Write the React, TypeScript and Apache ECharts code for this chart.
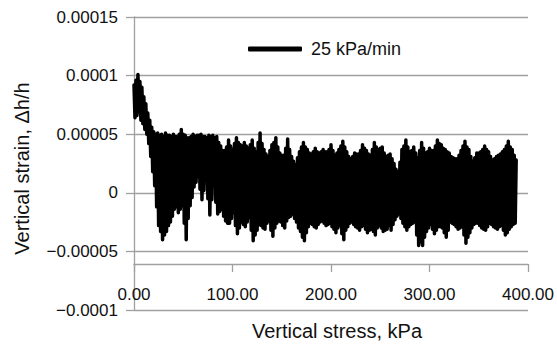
import { useEffect, useRef } from 'react';
import * as echarts from 'echarts';

// Readings are 1 kPa apart; each 4 kPa block holds: peak, trough, mid-peak, mid-trough.
const stressStep = 1;
// Peaks (×1e-5) at stress 0, 4, 8, ...
const peakStrain = [
  9.2, 10.1, 9.0, 7.6, 6.2, 5.2, 5.1, 5.0, 5.1, 4.9,
  5.0, 4.8, 5.4, 4.9, 4.7, 5.0, 4.9, 5.0, 4.8, 4.9,
  4.9, 4.8, 4.0, 3.6, 4.5, 3.7, 4.7, 4.1, 4.3, 3.8,
  4.5, 3.5, 5.1, 3.7, 3.1, 4.1, 4.7, 3.4, 3.2, 4.6,
  3.1, 2.4, 3.5, 4.3, 3.7, 3.3, 3.8, 3.4, 3.7, 3.5,
  4.1, 3.2, 3.7, 4.4, 3.5, 2.9, 3.4, 3.3, 4.1, 3.6,
  3.2, 4.3, 3.7, 3.9, 3.1, 3.3, 2.5, 1.8, 3.7, 4.5,
  3.5, 3.9, 3.0, 4.3, 3.4, 3.8, 3.6, 4.5, 4.1, 3.7,
  3.4, 3.0, 2.9, 3.6, 4.4, 3.7, 2.7, 3.4, 3.5, 4.0,
  3.5, 2.8, 3.1, 3.3, 3.7, 4.4, 3.7, 2.8,
];
// Troughs (×1e-5) at stress 1, 5, 9, ...
const troughStrain = [
  6.4, 6.9, 5.9, 5.0, 3.1, 0.6, -2.8, -4.0, -3.3, -2.5,
  -1.4, -1.7, -1.1, -4.0, -1.1, 0.5, 1.4, -0.6, 1.1, -1.9,
  0.7, -1.8, -1.4, -2.4, -2.6, -1.7, -3.5, -2.5, -2.9, -2.1,
  -4.1, -3.2, -2.8, -3.1, -2.4, -3.7, -2.6, -2.5, -3.0, -2.1,
  -1.8, -2.5, -3.3, -4.1, -2.9, -2.7, -3.0, -2.5, -2.6, -2.7,
  -2.9, -3.4, -2.8, -4.0, -2.9, -2.5, -2.9, -3.2, -2.8, -3.4,
  -3.1, -3.6, -2.8, -3.3, -3.1, -3.2, -2.3, -1.8, -2.6, -3.2,
  -2.7, -2.5, -4.5, -4.5, -3.3, -2.7, -3.5, -2.9, -3.0, -3.8,
  -2.5, -2.7, -3.1, -2.9, -4.3, -3.4, -2.7, -2.6, -3.0, -3.2,
  -2.6, -2.9, -3.1, -2.8, -3.6, -3.1, -2.7,
];
// Mid-peaks (×1e-5) at stress 2, 6, 10, ...
const midPeakStrain = [
  9.6, 9.5, 8.2, 6.8, 5.6, 5.0, 4.9, 4.8, 4.9, 4.8,
  4.8, 5.0, 5.0, 4.7, 4.8, 4.8, 4.9, 4.8, 4.7, 4.8,
  4.7, 4.3, 3.6, 3.9, 4.0, 4.2, 4.3, 4.0, 4.0, 4.1,
  3.8, 4.3, 4.2, 3.3, 3.6, 4.3, 3.9, 3.2, 3.8, 3.7,
  2.7, 3.0, 3.9, 3.9, 3.4, 3.5, 3.5, 3.5, 3.5, 3.7,
  3.6, 3.4, 4.0, 3.9, 3.1, 3.1, 3.3, 3.6, 3.8, 3.3,
  3.7, 3.9, 3.8, 3.4, 3.2, 2.9, 2.0, 2.6, 4.0, 3.9,
  3.6, 3.4, 3.6, 3.8, 3.5, 3.6, 4.0, 4.2, 3.8, 3.5,
  3.1, 2.9, 3.2, 4.0, 3.9, 3.1, 3.0, 3.4, 3.7, 3.7,
  3.1, 2.9, 3.2, 3.5, 4.0, 3.9, 3.2,
];
// Mid-troughs (×1e-5) at stress 3, 7, 11, ...
const midTroughStrain = [
  6.6, 6.2, 5.4, 4.2, 1.8, -1.2, -3.3, -3.6, -2.8, -2.0,
  -1.2, -1.4, -2.6, -2.2, -0.4, 0.9, 0.3, 0.2, -0.5, -0.6,
  -0.8, -1.6, -2.0, -2.6, -2.2, -2.8, -3.0, -2.7, -2.5, -3.2,
  -3.6, -2.7, -3.0, -2.6, -3.2, -3.0, -2.4, -2.8, -2.4, -2.0,
  -2.2, -3.0, -3.8, -3.4, -2.6, -2.9, -2.7, -2.4, -2.8, -2.6,
  -3.1, -3.0, -3.5, -3.2, -2.6, -2.7, -3.0, -2.9, -3.1, -3.2,
  -3.3, -3.0, -3.0, -3.2, -2.8, -2.7, -2.0, -2.2, -2.9, -2.9,
  -2.6, -3.6, -4.2, -3.8, -3.0, -3.1, -3.2, -2.9, -3.4, -3.2,
  -2.6, -2.9, -3.0, -3.6, -3.8, -3.0, -2.6, -2.8, -3.1, -2.9,
  -2.7, -3.0, -2.9, -3.2, -3.4, -2.9, -2.6,
];
const yTickValues = [-10, -5, 0, 5, 10, 15]; // ×1e-5
const yTickLabels = ['\u22120.0001', '\u22120.00005', '0', '0.00005', '0.0001', '0.00015'];
const seriesName = '25 kPa/min';

const FONT = '"Liberation Sans", Arial, Helvetica, sans-serif';
const GRID = '#a0a0a0';

export default function App() {
  const ref = useRef<HTMLDivElement>(null);
  useEffect(() => {
    const chart = echarts.init(ref.current!, null, { renderer: 'svg' });
    const data: [number, number][] = [];
    peakStrain.forEach((p, i) => {
      const base = 4 * i * stressStep;
      data.push([base, p * 1e-5]);
      if (i < troughStrain.length) {
        data.push([base + stressStep, troughStrain[i] * 1e-5]);
        data.push([base + 2 * stressStep, midPeakStrain[i] * 1e-5]);
        data.push([base + 3 * stressStep, midTroughStrain[i] * 1e-5]);
      }
    });
    chart.setOption({
      animation: false,
      textStyle: { fontFamily: FONT },
      grid: { left: 134, right: 24, top: 17, bottom: 33, containLabel: false },
      legend: {
        data: [{ name: seriesName, icon: 'roundRect' }],
        left: 248,
        top: 39,
        padding: 0,
        itemWidth: 54,
        itemHeight: 5,
        itemStyle: { color: '#000' },
        textStyle: { fontFamily: FONT, fontSize: 18, color: '#111', lineHeight: 20, padding: [0, 0, 0, 4] },
      },
      xAxis: {
        type: 'value',
        min: 0,
        max: 400,
        interval: 100,
        offset: -46,
        name: 'Vertical stress, kPa',
        nameLocation: 'middle',
        nameGap: 57,
        nameTextStyle: { fontFamily: FONT, fontSize: 20, color: '#111', padding: [0, 0, 0, 12] },
        axisLine: { onZero: false, lineStyle: { color: GRID, width: 1.3 } },
        axisTick: { show: true, length: 8, lineStyle: { color: GRID, width: 1.3 } },
        axisLabel: {
          margin: 22,
          fontFamily: FONT,
          fontSize: 17,
          color: '#111',
          formatter: (v: number) => v.toFixed(2),
        },
        splitLine: { show: false },
      },
      yAxis: {
        type: 'value',
        min: -0.0001,
        max: 0.00015,
        interval: 0.00005,
        name: 'Vertical strain, \u0394h/h',
        nameLocation: 'middle',
        nameGap: 102,
        nameTextStyle: { fontFamily: FONT, fontSize: 20, color: '#111', padding: [0, 10, 0, 0] },
        axisLine: { show: true, onZero: false, lineStyle: { color: GRID, width: 1.3 } },
        axisTick: { show: true, length: 8, lineStyle: { color: GRID, width: 1.3 } },
        axisLabel: {
          margin: 16,
          fontFamily: FONT,
          fontSize: 17,
          color: '#111',
          formatter: (v: number) => {
            const k = Math.round(v * 1e5);
            const idx = yTickValues.indexOf(k);
            return idx >= 0 ? yTickLabels[idx] : '';
          },
        },
        splitLine: { show: true, lineStyle: { color: GRID, width: 1.3 } },
      },
      series: [
        {
          name: seriesName,
          type: 'line',
          data,
          showSymbol: false,
          symbol: 'none',
          lineStyle: { color: '#000', width: 3.5, join: 'round', cap: 'round' },
          itemStyle: { color: '#000' },
        },
      ],
    });
    return () => chart.dispose();
  }, []);
  return (
    <div
      ref={ref}
      style={{ position: 'fixed', left: 0, top: 0, width: 557, height: 346, background: '#fff' }}
    />
  );
}
